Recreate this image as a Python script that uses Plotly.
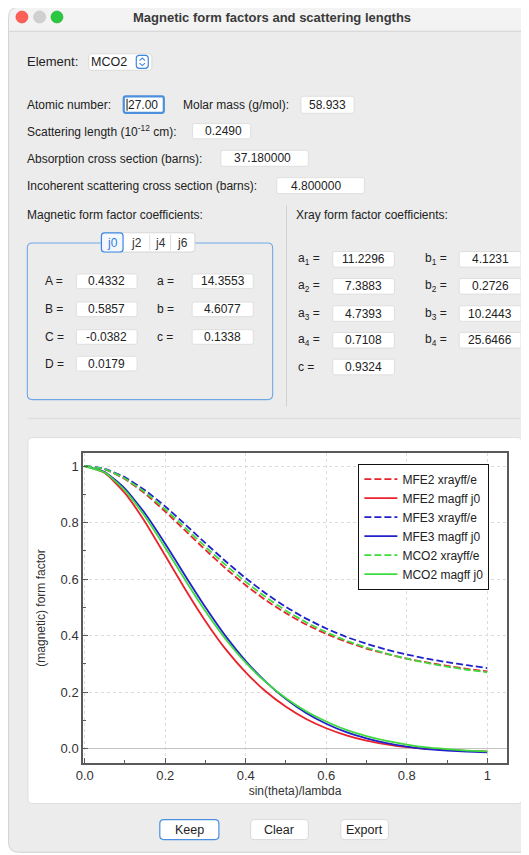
import plotly.graph_objects as go

# ---------------- data ----------------
sin_theta_over_lambda = [0.00, 0.05, 0.10, 0.15, 0.20, 0.25, 0.30, 0.35, 0.40, 0.45, 0.50,
                         0.55, 0.60, 0.65, 0.70, 0.75, 0.80, 0.85, 0.90, 0.95, 1.00]

mfe2_xrayff = [1.000, 0.988, 0.954, 0.902, 0.839, 0.771, 0.703, 0.638, 0.578, 0.525, 0.479,
               0.439, 0.406, 0.378, 0.354, 0.335, 0.318, 0.305, 0.293, 0.282, 0.273]
mfe2_magff_j0 = [1.000, 0.975, 0.904, 0.802, 0.683, 0.563, 0.451, 0.352, 0.270, 0.202, 0.148,
                 0.105, 0.072, 0.047, 0.028, 0.015, 0.005, -0.001, -0.005, -0.008, -0.010]
mfe3_xrayff = [1.000, 0.990, 0.960, 0.914, 0.857, 0.793, 0.727, 0.663, 0.603, 0.549, 0.501,
               0.460, 0.425, 0.395, 0.371, 0.350, 0.333, 0.318, 0.306, 0.295, 0.285]
mfe3_magff_j0 = [1.000, 0.979, 0.920, 0.832, 0.725, 0.611, 0.500, 0.398, 0.310, 0.236, 0.175,
                 0.126, 0.088, 0.058, 0.036, 0.019, 0.007, -0.002, -0.007, -0.011, -0.013]
mco2_xrayff = [1.000, 0.989, 0.956, 0.907, 0.847, 0.781, 0.714, 0.650, 0.590, 0.536, 0.488,
               0.447, 0.412, 0.382, 0.357, 0.336, 0.318, 0.303, 0.290, 0.279, 0.270]
mco2_magff_j0 = [0.999, 0.977, 0.914, 0.821, 0.711, 0.596, 0.486, 0.388, 0.304, 0.235, 0.178,
                 0.132, 0.096, 0.066, 0.044, 0.027, 0.014, 0.004, -0.002, -0.007, -0.010]

series_names = ["MFE2 xrayff/e", "MFE2 magff j0", "MFE3 xrayff/e",
                "MFE3 magff j0", "MCO2 xrayff/e", "MCO2 magff j0"]
series_values = [mfe2_xrayff, mfe2_magff_j0, mfe3_xrayff, mfe3_magff_j0, mco2_xrayff, mco2_magff_j0]

x_tick_vals = [0.0, 0.2, 0.4, 0.6, 0.8, 1.0]
x_tick_text = ["0.0", "0.2", "0.4", "0.6", "0.8", "1"]
y_tick_vals = [0.0, 0.2, 0.4, 0.6, 0.8, 1.0]
y_tick_text = ["0.0", "0.2", "0.4", "0.6", "0.8", "1"]
minor_vals = [0.1, 0.3, 0.5, 0.7, 0.9]

window_title = "Magnetic form factors and scattering lengths"
element = "MCO2"
atomic_number = "27.00"
molar_mass = "58.933"
scattering_length = "0.2490"
absorption_xs = "37.180000"
incoherent_xs = "4.800000"
mag_tabs = ["j0", "j2", "j4", "j6"]
mag_left_labels = ["A =", "B =", "C =", "D ="]
mag_left_values = ["0.4332", "0.5857", "-0.0382", "0.0179"]
mag_right_labels = ["a =", "b =", "c ="]
mag_right_values = ["14.3553", "4.6077", "0.1338"]
xray_left_labels = ["a<sub>1</sub> =", "a<sub>2</sub> =", "a<sub>3</sub> =", "a<sub>4</sub> =", "c ="]
xray_left_values = ["11.2296", "7.3883", "4.7393", "0.7108", "0.9324"]
xray_right_labels = ["b<sub>1</sub> =", "b<sub>2</sub> =", "b<sub>3</sub> =", "b<sub>4</sub> ="]
xray_right_values = ["4.1231", "0.2726", "10.2443", "25.6466"]
buttons = ["Keep", "Clear", "Export"]

# ---------------- geometry helpers (page pixels -> paper) ----------------
# The page body has an 8px margin, so the figure starts at page pixel (8, 8).
PAGE_W, PAGE_H = 529, 855
OFF = 8
W, H = PAGE_W - OFF, PAGE_H - OFF
PLOT_L, PLOT_R, PLOT_T, PLOT_B = 83.3, 506.7, 452.7, 762.7   # page pixels of the axes frame
ML = PLOT_L - OFF
MT = PLOT_T - OFF
MR = PAGE_W - PLOT_R
MB = PAGE_H - PLOT_B
PW = PLOT_R - PLOT_L
PH = PLOT_B - PLOT_T
FONT = "Liberation Sans, Arial, sans-serif"


def X(p):
    return (p - PLOT_L) / PW


def Y(p):
    return (PLOT_B - p) / PH


shapes = []
annotations = []


def rrect(x0, y0, x1, y1, r, fill, line=None, lw=1.0, layer="below"):
    if r > 0:
        p = (f"M{X(x0 + r):.5f},{Y(y0):.5f} L{X(x1 - r):.5f},{Y(y0):.5f} "
             f"Q{X(x1):.5f},{Y(y0):.5f} {X(x1):.5f},{Y(y0 + r):.5f} "
             f"L{X(x1):.5f},{Y(y1 - r):.5f} Q{X(x1):.5f},{Y(y1):.5f} {X(x1 - r):.5f},{Y(y1):.5f} "
             f"L{X(x0 + r):.5f},{Y(y1):.5f} Q{X(x0):.5f},{Y(y1):.5f} {X(x0):.5f},{Y(y1 - r):.5f} "
             f"L{X(x0):.5f},{Y(y0 + r):.5f} Q{X(x0):.5f},{Y(y0):.5f} {X(x0 + r):.5f},{Y(y0):.5f} Z")
        shapes.append(dict(type="path", xref="paper", yref="paper", path=p, fillcolor=fill,
                           line=dict(color=line if line else "rgba(0,0,0,0)", width=lw if line else 0),
                           layer=layer))
    else:
        shapes.append(dict(type="rect", xref="paper", yref="paper", x0=X(x0), x1=X(x1), y0=Y(y1), y1=Y(y0),
                           fillcolor=fill,
                           line=dict(color=line if line else "rgba(0,0,0,0)", width=lw if line else 0),
                           layer=layer))


def hline(x0, x1, y, color, w=1.0, layer="below"):
    shapes.append(dict(type="line", xref="paper", yref="paper", x0=X(x0), x1=X(x1), y0=Y(y), y1=Y(y),
                       line=dict(color=color, width=w), layer=layer))


def vline(x, y0, y1, color, w=1.0, layer="below"):
    shapes.append(dict(type="line", xref="paper", yref="paper", x0=X(x), x1=X(x), y0=Y(y0), y1=Y(y1),
                       line=dict(color=color, width=w), layer=layer))


def circle(cx, cy, r, fill, line):
    shapes.append(dict(type="circle", xref="paper", yref="paper", x0=X(cx - r), x1=X(cx + r),
                       y0=Y(cy + r), y1=Y(cy - r), fillcolor=fill, line=dict(color=line, width=0.6),
                       layer="below"))


def polyline(pts, color, w=1.2):
    p = "M" + " L".join(f"{X(a):.5f},{Y(b):.5f}" for a, b in pts)
    shapes.append(dict(type="path", xref="paper", yref="paper", path=p,
                       line=dict(color=color, width=w), layer="below"))


def text(x, y, s, size=12, color="#222222", anchor="left", family=FONT):
    annotations.append(dict(x=X(x), y=Y(y), xref="paper", yref="paper", text=s, showarrow=False,
                            xanchor=anchor, yanchor="middle", borderpad=0, borderwidth=0,
                            font=dict(size=size, color=color, family=family)))


def field(x0, y0, x1, y1, s, tx=None, focus=False):
    if focus:
        rrect(x0, y0, x1, y1, 2, "white", "#4c8fdc", 2.2)
    else:
        rrect(x0, y0, x1, y1, 2, "white", "#d9d9d9", 0.8)
    if s is not None:
        text((x0 + x1) / 2 if tx is None else tx, (y0 + y1) / 2, s, 12, "#222222", "center")


# ---------------- window chrome ----------------
rrect(9, 7, 560, 852, 10, "#ececec", "#c6c6c6", 0.8)
rrect(9.5, 7.5, 560, 40, 10, "#f3f3f3")
rrect(9.5, 30, 529, 42, 0, "#ececec")
hline(9.5, 529, 31, "#d6d6d6", 1)
circle(22.3, 16.7, 6, "#fe5f57", "#e0443e")
circle(40.0, 16.7, 6, "#d0d0d0", "#c0c0c0")
circle(57.3, 16.7, 6, "#2ac840", "#1aab29")
text(271.7, 17, "<b>" + window_title + "</b>", 13, "#3a3a3a", "center")

# element row
text(27, 61, "Element:", 13)
rrect(89, 53.5, 152, 70, 3, "white", "#d4d4d4", 0.8)
text(91, 61.5, element, 12.5)
rrect(136.5, 55, 148.5, 68, 3, "white", "#3d86e0", 1.2)
polyline([(139.8, 60.3), (142.5, 57.8), (145.2, 60.3)], "#3d86e0", 1.1)
polyline([(139.8, 62.8), (142.5, 65.3), (145.2, 62.8)], "#3d86e0", 1.1)

# scalar rows
text(27, 104.3, "Atomic number:", 12)
field(124, 96, 164, 112.5, None, focus=True)
text(128, 104.3, atomic_number, 12)
vline(127.3, 98.5, 110.5, "#111111", 1)
text(183.3, 104.3, "Molar mass (g/mol):", 12)
field(301, 96, 354, 113, molar_mass)
text(27, 131, "Scattering length (10<sup>-12</sup> cm):", 12)
field(192.7, 123.3, 250.7, 138.5, scattering_length, tx=223.5)
text(27, 158.3, "Absorption cross section (barns):", 12)
field(221, 150, 308.3, 166, absorption_xs, tx=262.5)
text(27, 185.7, "Incoherent scattering cross section (barns):", 12)
field(276.7, 177.3, 364.3, 193.3, incoherent_xs, tx=316)

# coefficient groups
text(27, 215, "Magnetic form factor coefficients:", 12)
text(296, 215, "Xray form factor coefficients:", 12)
vline(286.5, 205, 406, "#d2d2d2", 1)
rrect(27.7, 242.7, 272.7, 399.3, 5, "#ececec", "#6fa8e6", 1.1)
rrect(101.7, 232.5, 195, 251.7, 3, "white", "#cfcfcf", 0.8)
rrect(101.7, 232.5, 123.3, 251.7, 3, "#f4f8fe", "#3d86e0", 1.2)
vline(150, 234, 250, "#d4d4d4", 0.8)
vline(170.7, 234, 250, "#d4d4d4", 0.8)
tab_centers = [112.5, 136.7, 160.3, 182.5]
for i, (t, cx) in enumerate(zip(mag_tabs, tab_centers)):
    text(cx, 242.2, t, 12, "#2f7ad8" if i == 0 else "#333333", "center")

mag_rows = [281, 309, 336.7, 363.3]
for i, (lab, val) in enumerate(zip(mag_left_labels, mag_left_values)):
    text(45, mag_rows[i], lab, 12)
    field(76.7, mag_rows[i] - 7.3, 137.3, mag_rows[i] + 7.3, val)
for i, (lab, val) in enumerate(zip(mag_right_labels, mag_right_values)):
    text(157.3, mag_rows[i], lab, 12)
    field(192.3, mag_rows[i] - 7.3, 253.3, mag_rows[i] + 7.3, val)

xray_rows = [259, 286, 313.3, 340, 366.7]
for i, (lab, val) in enumerate(zip(xray_left_labels, xray_left_values)):
    text(298.3, xray_rows[i], lab, 12)
    field(332.7, xray_rows[i] - 7.8, 394.3, xray_rows[i] + 7.8, val)
for i, (lab, val) in enumerate(zip(xray_right_labels, xray_right_values)):
    text(425, xray_rows[i], lab, 12)
    field(459, xray_rows[i] - 7.8, 520.7, xray_rows[i] + 7.8, val)

hline(28, 520, 418, "#dadada", 1)

# chart panel
rrect(28.3, 437.3, 521.7, 803.3, 5, "white", "#dedede", 1)

# buttons
btn_boxes = [(160, 219), (250.7, 308.3), (340.7, 388.3)]
for i, (b, (bx0, bx1)) in enumerate(zip(buttons, btn_boxes)):
    rrect(bx0, 819.3, bx1, 839.3, 4, "white", "#4a8fe0" if i == 0 else "#d0d0d0", 1.2 if i == 0 else 0.8)
    text((bx0 + bx1) / 2, 829.5, b, 12.5, "#222222", "center")

# ---------------- traces ----------------
colors = ["#e8232b", "#e8232b", "#2020cc", "#2020cc", "#3ddb3d", "#3ddb3d"]
dashes = ["7px,3px", "solid", "7px,3px", "solid", "7px,3px", "solid"]

fig = go.Figure()
for name, vals, c, d in zip(series_names, series_values, colors, dashes):
    fig.add_trace(go.Scatter(x=sin_theta_over_lambda, y=vals, mode="lines", name=name,
                             line=dict(color=c, width=1.8, dash=d, shape="spline", smoothing=0.5)))

axis_common = dict(
    ticks="inside", ticklen=5, tickwidth=1, tickcolor="#5a5a5a",
    showline=True, linecolor="#5a5a5a", linewidth=1.5, mirror=True,
    showgrid=True, gridcolor="#dcdcdc", gridwidth=1, griddash="dot",
    tickfont=dict(size=13, color="#333333", family=FONT),
    minor=dict(tickvals=minor_vals, ticks="inside", ticklen=3, tickcolor="#5a5a5a", showgrid=False),
)

fig.update_layout(
    width=W, height=H,
    margin=dict(l=ML, r=MR, t=MT, b=MB, pad=0, autoexpand=False),
    paper_bgcolor="white", plot_bgcolor="white",
    font=dict(family=FONT, color="#222222"),
    shapes=shapes, annotations=annotations,
    showlegend=True,
    legend=dict(x=X(358.3), y=Y(463.3), xanchor="left", yanchor="top",
                bgcolor="white", bordercolor="#111111", borderwidth=1,
                font=dict(size=12, color="#222222", family=FONT),
                tracegroupgap=0, itemwidth=33),
    xaxis=dict(range=[-0.0042, 1.049], tickvals=x_tick_vals, ticktext=x_tick_text,
               zeroline=False,
               title=dict(text="sin(theta)/lambda", font=dict(size=12, color="#333333", family=FONT),
                          standoff=4),
               **axis_common),
    yaxis=dict(range=[-0.051, 1.046], tickvals=y_tick_vals, ticktext=y_tick_text,
               zeroline=True, zerolinecolor="#c4c4c4", zerolinewidth=1,
               title=dict(text="(magnetic) form factor", font=dict(size=12, color="#333333", family=FONT),
                          standoff=12),
               **axis_common),
)

fig.write_html("out.html")
